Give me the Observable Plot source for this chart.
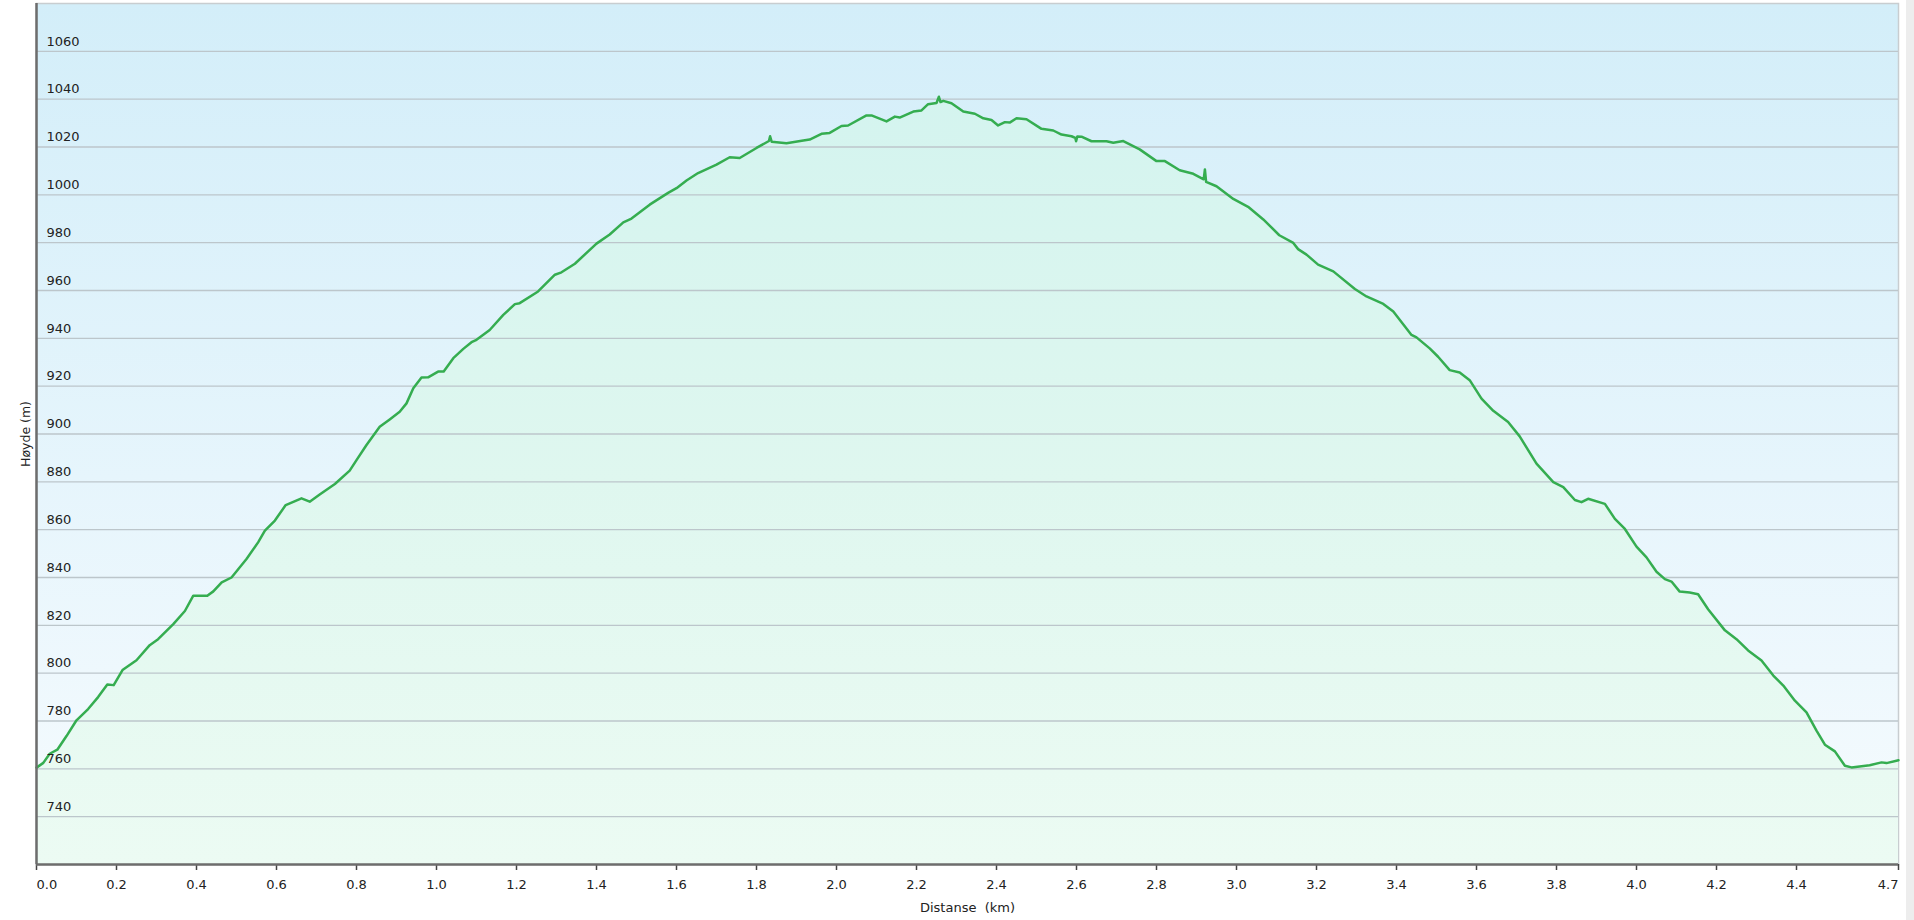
<!DOCTYPE html>
<html>
<head>
<meta charset="utf-8">
<script src="https://cdn.jsdelivr.net/npm/d3@7"></script>
<script src="https://cdn.jsdelivr.net/npm/@observablehq/plot@0.6"></script>
<style>
  html, body { margin: 0; padding: 0; background: #fff; overflow: hidden; }
  #wrap { position: relative; width: 1914px; height: 920px; }
  #scroll { position: absolute; right: 0; top: 0; width: 8px; height: 920px; background: #ededed; }
</style>
</head>
<body>
<div id="wrap"><div id="scroll"></div></div>
<script>
// Distance along the route (km)
const distanceKm = [
  0, 0.017, 0.033, 0.052, 0.075, 0.1, 0.129, 0.154, 0.177, 0.193, 0.215, 0.25, 0.283, 0.304, 0.342, 0.371, 0.392, 0.427, 0.442, 0.463,
  0.4875, 0.525, 0.554, 0.571, 0.596, 0.623, 0.6625, 0.683, 0.708, 0.746, 0.783, 0.8, 0.825, 0.858, 0.883, 0.908, 0.925, 0.942, 0.9625, 0.979,
  1.004, 1.018, 1.042, 1.067, 1.0875, 1.1, 1.133, 1.167, 1.196, 1.208, 1.254, 1.296, 1.3125, 1.346, 1.4, 1.433, 1.467, 1.4875, 1.533, 1.579,
  1.6, 1.625, 1.654, 1.7, 1.733, 1.758, 1.8, 1.831, 1.834, 1.838, 1.875, 1.917, 1.933, 1.9625, 1.983, 2.0125, 2.029, 2.075, 2.0875, 2.125,
  2.146, 2.158, 2.192, 2.2125, 2.229, 2.25, 2.256, 2.26, 2.267, 2.2875, 2.317, 2.346, 2.367, 2.3875, 2.404, 2.421, 2.433, 2.45, 2.475, 2.5125,
  2.542, 2.5625, 2.5875, 2.597, 2.599, 2.602, 2.6125, 2.6375, 2.675, 2.692, 2.717, 2.758, 2.8, 2.821, 2.858, 2.892, 2.918, 2.921, 2.924, 2.95,
  2.992, 3.029, 3.067, 3.107, 3.142, 3.154, 3.175, 3.204, 3.242, 3.296, 3.325, 3.367, 3.392, 3.4375, 3.45, 3.483, 3.504, 3.533, 3.558, 3.583,
  3.6125, 3.642, 3.679, 3.708, 3.75, 3.792, 3.817, 3.846, 3.8625, 3.879, 3.921, 3.946, 3.971, 4.0, 4.025, 4.05, 4.071, 4.0875, 4.108, 4.133,
  4.154, 4.179, 4.221, 4.25, 4.279, 4.3125, 4.342, 4.367, 4.396, 4.425, 4.45, 4.471, 4.496, 4.521, 4.5375, 4.583, 4.6125, 4.625, 4.655
];
// Elevation (m)
const elevationM = [
  760.5, 762.5, 766.3, 768, 773.7, 780.3, 785, 790, 795.3, 795, 801.3, 805.4, 811.7, 814.2, 820.5, 826, 832.4, 832.4, 834.2, 838,
  840, 847.7, 854.7, 859.6, 863.8, 870.3, 873.1, 871.7, 874.7, 879.1, 884.7, 889.1, 895.4, 903, 906.1, 909.3, 912.8, 919.1, 923.6, 923.7,
  926.1, 926.1, 931.7, 935.6, 938.4, 939.4, 943.5, 949.8, 954.3, 954.7, 959.6, 966.6, 967.6, 971.2, 979.6, 983.4, 988.5, 990.1, 995.9, 1000.8,
  1002.8, 1006, 1009.1, 1012.6, 1015.7, 1015.4, 1019.6, 1022.5, 1024.5, 1022.2, 1021.6, 1022.7, 1023.1, 1025.5, 1025.9, 1028.8, 1029, 1033.2, 1033.2, 1030.7,
  1032.7, 1032.3, 1034.8, 1035.3, 1037.9, 1038.4, 1041, 1038.8, 1039.3, 1038.3, 1034.8, 1033.9, 1032, 1031.3, 1029, 1030.4, 1030.2, 1032, 1031.6, 1027.6,
  1026.9, 1025.2, 1024.5, 1023.8, 1022.4, 1024.4, 1024.3, 1022.4, 1022.4, 1021.8, 1022.5, 1019, 1014.1, 1014.1, 1010.3, 1008.8, 1006.5, 1010.6, 1005.4, 1003.6,
  998.3, 995, 989.7, 983.1, 979.9, 977.3, 975, 970.8, 968, 960.6, 957.5, 954.4, 951.2, 941.4, 940.4, 935.8, 932.3, 926.7, 925.7, 922.5,
  914.8, 909.7, 905, 899, 887.6, 879.9, 877.8, 872.4, 871.5, 872.9, 870.8, 864.5, 860.3, 852.9, 848.4, 842.4, 839.3, 838.3, 834.1, 833.7,
  833, 826.7, 817.9, 814.2, 809.5, 805.3, 799, 794.8, 788.5, 783.6, 776, 770.1, 767.3, 761.3, 760.6, 761.5, 762.7, 762.4, 763.6
];
const yTicks = [740, 760, 780, 800, 820, 840, 860, 880, 900, 920, 940, 960, 980, 1000, 1020, 1040, 1060];
const xTicks = [0.2, 0.4, 0.6, 0.8, 1.0, 1.2, 1.4, 1.6, 1.8, 2.0, 2.2, 2.4, 2.6, 2.8, 3.0, 3.2, 3.4, 3.6, 3.8, 4.0, 4.2, 4.4];
const xStart = [0];
const xEnd = [4.655];
const yDomain = [720, 1080];
const xLabel = "Distanse\u00a0 (km)";
const yLabel = "Høyde (m)";

const data = distanceKm.map((d, i) => ({d, e: elevationM[i]}));
const font = "DejaVu Sans, Verdana, sans-serif";
const fmt = d3.format(".1f");
const yfmt = d3.format("d");
const ink = "#222";

const chart = Plot.plot({
  width: 1914,
  height: 920,
  marginTop: 3,
  marginRight: 16,
  marginBottom: 56,
  marginLeft: 36,
  style: {fontFamily: font, fontSize: "13px", color: ink, background: "transparent"},
  x: {domain: [0, 4.655]},
  y: {domain: yDomain},
  marks: [
    Plot.frame({fill: "url(#bgGrad)", stroke: "#c8cdd0", strokeWidth: 1.5}),
    Plot.areaY(data, {x: "d", y1: yDomain[0], y2: "e", fill: "url(#areaGrad)"}),
    Plot.gridY(yTicks, {stroke: "#bcc6cb", strokeOpacity: 1, strokeWidth: 1.4}),
    Plot.lineY(data, {x: "d", y: "e", stroke: "#35ad50", strokeWidth: 2.5}),
    Plot.axisY(yTicks, {anchor: "left", tickSize: 0, tickPadding: 0, tickFormat: yfmt, textAnchor: "start", dx: 10, dy: -10, fontSize: 13, fill: ink, label: null}),
    Plot.axisX(xTicks, {anchor: "bottom", tickSize: 6, tickPadding: 9, tickFormat: fmt, fontSize: 13, fill: ink, stroke: "#444", strokeWidth: 1.5, label: null}),
    Plot.axisX(xStart, {anchor: "bottom", tickSize: 6, tickPadding: 9, tickFormat: fmt, textAnchor: "start", fontSize: 13, fill: ink, stroke: "#444", strokeWidth: 1.5, label: null}),
    Plot.axisX(xEnd, {anchor: "bottom", tickSize: 6, tickPadding: 9, tickFormat: fmt, textAnchor: "end", fontSize: 13, fill: ink, stroke: "#444", strokeWidth: 1.5, label: null}),
    Plot.ruleX([0], {stroke: "#6d6d6d", strokeWidth: 2.5}),
    Plot.ruleY([yDomain[0]], {stroke: "#6d6d6d", strokeWidth: 2.5}),
    Plot.text([yLabel], {frameAnchor: "left", rotate: -90, dx: -11, fontSize: 12.5, fill: ink, textAnchor: "middle", lineAnchor: "middle"}),
    Plot.text([xLabel], {frameAnchor: "bottom", dy: 43, fontSize: 13, fill: ink, textAnchor: "middle", lineAnchor: "middle"})
  ]
});

const svg = d3.select(chart);
const defs = svg.insert("defs", ":first-child");
const bg = defs.append("linearGradient").attr("id", "bgGrad").attr("x1", 0).attr("y1", 0).attr("x2", 0).attr("y2", 1);
bg.append("stop").attr("offset", "0%").attr("stop-color", "#d3eef9");
bg.append("stop").attr("offset", "55%").attr("stop-color", "#e6f5fc");
bg.append("stop").attr("offset", "100%").attr("stop-color", "#f6fbfe");
const ag = defs.append("linearGradient").attr("id", "areaGrad").attr("x1", 0).attr("y1", 0).attr("x2", 0).attr("y2", 1);
ag.append("stop").attr("offset", "0%").attr("stop-color", "#d4f4ef");
ag.append("stop").attr("offset", "50%").attr("stop-color", "#dff7ef");
ag.append("stop").attr("offset", "100%").attr("stop-color", "#ecfbf3");

document.getElementById("wrap").prepend(chart);
</script>
</body>
</html>
